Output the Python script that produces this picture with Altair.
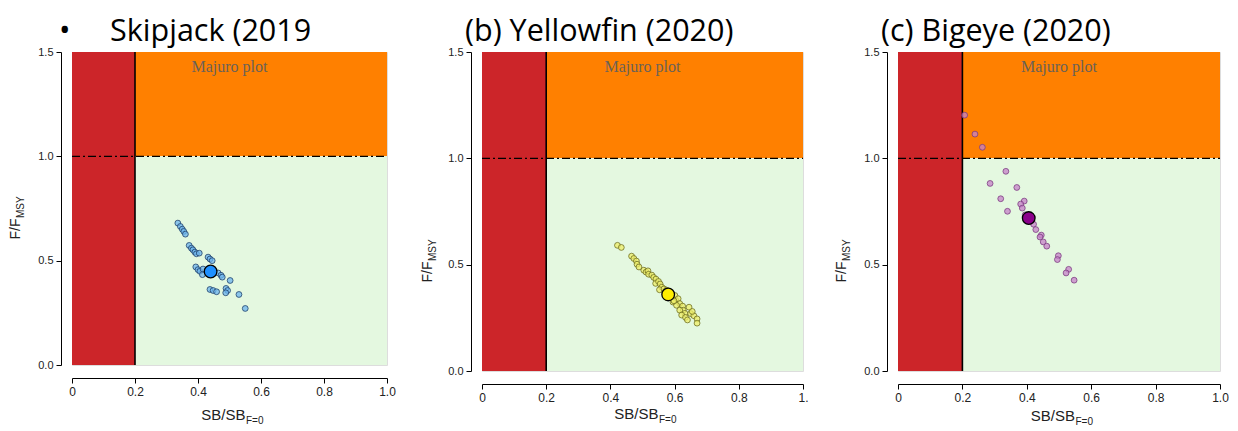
import altair as alt
import pandas as pd

# ---------------- data ----------------
skj_x = [0.336, 0.344, 0.350, 0.355, 0.360, 0.372, 0.379, 0.384, 0.390, 0.395, 0.404,
         0.432, 0.438, 0.445, 0.393, 0.400, 0.406, 0.414, 0.416, 0.464, 0.473, 0.477,
         0.502, 0.438, 0.448, 0.459, 0.489, 0.494, 0.488, 0.530, 0.550]
skj_y = [0.680, 0.664, 0.651, 0.640, 0.627, 0.573, 0.560, 0.552, 0.541, 0.533, 0.536,
         0.517, 0.508, 0.500, 0.470, 0.457, 0.449, 0.433, 0.460, 0.441, 0.430, 0.421,
         0.405, 0.362, 0.357, 0.351, 0.367, 0.357, 0.346, 0.338, 0.271]
skj_now_x = [0.440]
skj_now_y = [0.448]

yft_x = [0.422, 0.434, 0.466, 0.473, 0.481, 0.483, 0.489, 0.504, 0.511, 0.517, 0.519,
         0.529, 0.535, 0.542, 0.541, 0.550, 0.555, 0.560, 0.553, 0.567, 0.591, 0.601,
         0.604, 0.611, 0.595, 0.616, 0.606, 0.625, 0.627, 0.616, 0.632, 0.622, 0.634,
         0.645, 0.650, 0.660, 0.670, 0.670, 0.640, 0.655, 0.575, 0.585, 0.570, 0.598]
yft_y = [0.591, 0.581, 0.540, 0.529, 0.517, 0.502, 0.489, 0.474, 0.465, 0.471, 0.455,
         0.451, 0.440, 0.432, 0.412, 0.421, 0.409, 0.394, 0.382, 0.386, 0.348, 0.355,
         0.332, 0.340, 0.324, 0.317, 0.309, 0.305, 0.286, 0.286, 0.271, 0.263, 0.252,
         0.300, 0.270, 0.260, 0.245, 0.225, 0.240, 0.280, 0.380, 0.360, 0.370, 0.330]
yft_now_x = [0.580]
yft_now_y = [0.360]

bet_x = [0.207, 0.239, 0.262, 0.335, 0.286, 0.369, 0.319, 0.392, 0.381, 0.386, 0.340,
         0.395, 0.421, 0.428, 0.445, 0.441, 0.451, 0.462, 0.498, 0.495, 0.530, 0.522, 0.547]
bet_y = [1.203, 1.114, 1.052, 0.939, 0.882, 0.863, 0.810, 0.799, 0.785, 0.766, 0.751,
         0.734, 0.690, 0.665, 0.639, 0.630, 0.607, 0.587, 0.542, 0.524, 0.478, 0.461, 0.427]
bet_now_x = [0.406]
bet_now_y = [0.719]

titles = ["\u2022\u00a0\u00a0\u00a0\u00a0\u00a0Skipjack (2019", "(b) Yellowfin (2020)", "(c) Bigeye (2020)"]

LRP = 0.2          # limit reference point SB/SB_F=0
F_LIMIT = 1.0      # F/F_MSY = 1
X_MAX = 1.0
Y_MAX = 1.5
x_ticks = [0, 0.2, 0.4, 0.6, 0.8, 1.0]
y_ticks = [0, 0.5, 1.0, 1.5]
zone_names = ["red", "orange", "green"]
zone_colors = ["#cc2529", "#ff8000", "#e4f8e0"]

AX_FONT = "Liberation Sans"


def panel(title, title_dx, xs, ys, nx, ny, small_fill, small_stroke, big_fill,
          w, h, one_label, xt_dy, yt_dx, yt_dy):
    pts = pd.DataFrame({"x": xs, "y": ys})
    now = pd.DataFrame({"x": nx, "y": ny})
    zones = pd.DataFrame({
        "x": [0, LRP, LRP], "x2": [LRP, X_MAX, X_MAX],
        "y": [0, F_LIMIT, 0], "y2": [Y_MAX, Y_MAX, F_LIMIT],
        "zone": zone_names,
    })
    xscale = alt.Scale(domain=[0, X_MAX], nice=False, zero=False)
    yscale = alt.Scale(domain=[0, Y_MAX], nice=False, zero=False)
    xaxis = alt.Axis(values=x_ticks, title=None, grid=False, offset=13,
                     labelExpr=f"datum.value == 0 ? '0' : datum.value == 1 ? '{one_label}' : format(datum.value, '.1f')",
                     domainColor="black", tickColor="black", tickSize=5,
                     labelFont=AX_FONT, labelFontSize=12, labelColor="#222",
                     labelPadding=3, labelFlush=False)
    yaxis = alt.Axis(values=y_ticks, format=".1f", title=None, grid=False, offset=11,
                     domainColor="black", tickColor="black", tickSize=5,
                     labelFont=AX_FONT, labelFontSize=11, labelColor="#222",
                     labelPadding=3, labelFlush=False)
    X = alt.X("x:Q", scale=xscale, axis=xaxis)
    Y = alt.Y("y:Q", scale=yscale, axis=yaxis)

    rects = alt.Chart(zones).mark_rect().encode(
        x=X, x2="x2:Q", y=Y, y2="y2:Q",
        color=alt.Color("zone:N", scale=alt.Scale(domain=zone_names, range=zone_colors), legend=None),
    )
    vline = alt.Chart(pd.DataFrame({"x": [LRP], "y": [0], "y2": [Y_MAX]})).mark_rule(
        color="black", strokeWidth=1.6).encode(x=X, y=Y, y2="y2:Q")
    hline = alt.Chart(pd.DataFrame({"x": [0], "x2": [X_MAX], "y": [F_LIMIT]})).mark_rule(
        color="black", strokeWidth=1.4, strokeDash=[8, 3, 2, 3]).encode(x=X, x2="x2:Q", y=Y)
    majuro = alt.Chart(pd.DataFrame({"x": [0.5], "y": [1.43]})).mark_text(
        text="Majuro plot", font="Liberation Serif", fontSize=16, color="#6a6258",
        fill="#6a6258").encode(x=X, y=Y)
    small = alt.Chart(pts).mark_point(
        shape="circle", filled=True, size=34, fill=small_fill, fillOpacity=0.75,
        stroke=small_stroke, strokeOpacity=0.85, strokeWidth=0.9).encode(x=X, y=Y)
    big = alt.Chart(now).mark_point(
        shape="circle", filled=True, size=160, fill=big_fill, fillOpacity=1,
        stroke="black", strokeWidth=1.3).encode(x=X, y=Y)

    one = pd.DataFrame({"a": [0]})
    head = alt.Chart(one).mark_text(
        text=title, align="left", baseline="alphabetic", font="Open Sans", fontSize=30.5,
        color="black").encode(x=alt.value(title_dx), y=alt.value(-11))
    xt_main = alt.Chart(one).mark_text(
        text="SB/SB", align="right", baseline="alphabetic", font=AX_FONT, fontSize=15,
        color="#222").encode(x=alt.value(w / 2 + 16), y=alt.value(h + xt_dy))
    xt_sub = alt.Chart(one).mark_text(
        text="F=0", align="left", baseline="alphabetic", font=AX_FONT, fontSize=10,
        color="#222").encode(x=alt.value(w / 2 + 16.5), y=alt.value(h + xt_dy + 4))
    yt_main = alt.Chart(one).mark_text(
        text="F/F", align="right", baseline="alphabetic", angle=270, font=AX_FONT, fontSize=14,
        color="#222").encode(x=alt.value(yt_dx), y=alt.value(h / 2 + yt_dy))
    yt_sub = alt.Chart(one).mark_text(
        text="MSY", align="left", baseline="alphabetic", angle=270, font=AX_FONT, fontSize=10,
        color="#222").encode(x=alt.value(yt_dx + 4), y=alt.value(h / 2 + yt_dy - 0.5))

    return alt.layer(rects, vline, hline, majuro, small, big,
                     head, xt_main, xt_sub, yt_main, yt_sub).properties(width=w, height=h)


p1 = panel(titles[0], -13, skj_x, skj_y, skj_now_x, skj_now_y,
           "#6cb4ee", "#1c3c66", "#1e90ff", 315, 313, "1.0", 55, -52, 10)
p2 = panel(titles[1], -17, yft_x, yft_y, yft_now_x, yft_now_y,
           "#efef6a", "#6b6b1e", "#ffee00", 321, 319, "1.", 48, -50, 50)
p3 = panel(titles[2], -17, bet_x, bet_y, bet_now_x, bet_now_y,
           "#c681c8", "#7a3a80", "#8b008b", 322, 319, "1.0", 50, -52, 50)

chart = alt.hconcat(p1, p2, p3, spacing=95, bounds="flush").properties(
    padding={"left": 0, "top": 8, "right": 0, "bottom": 0}
).configure_view(stroke=None).configure(background="white")

chart.save("out.html", embed_options={"renderer": "svg", "actions": False})
